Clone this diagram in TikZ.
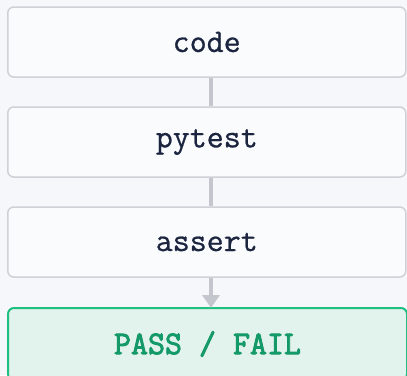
\documentclass[tikz,border=0pt]{standalone}
\usepackage{fontspec}
\usetikzlibrary{arrows.meta}
\newfontfamily\stagefont[FakeBold=0.7]{Latin Modern Mono}
\newfontfamily\resultfont[FakeBold=2.6]{Latin Modern Mono}
\definecolor{pagebg}{HTML}{F6F7FA}
\definecolor{boxfill}{HTML}{FAFBFC}
\definecolor{boxline}{HTML}{D0D1D8}
\definecolor{inktext}{HTML}{1C2540}
\definecolor{linkgray}{HTML}{C4C6CE}
\definecolor{okfill}{HTML}{E2F2EC}
\definecolor{okline}{HTML}{1FBF82}
\definecolor{oktext}{HTML}{149A68}
\tikzset{
  stagebox/.style={draw=boxline, line width=1.5pt, fill=boxfill, rounded corners=6pt,
    minimum width=398pt, minimum height=70pt, inner sep=0pt,
    font=\stagefont\fontsize{33}{38}\selectfont, text=inktext},
  resultbox/.style={draw=okline, line width=2pt, fill=okfill, rounded corners=6pt,
    minimum width=399pt, minimum height=72pt, inner sep=0pt,
    font=\resultfont\fontsize{33}{38}\selectfont, text=oktext},
  link/.style={draw=linkgray, line width=4.5pt},
  linkarrow/.style={link, -{Triangle[width=17pt,length=13pt]}, shorten >=-1pt}
}
\begin{document}
\begin{tikzpicture}[x=1pt,y=-1pt]
  \fill[pagebg] (0,0) rectangle (407,375);
  \useasboundingbox (0,0) rectangle (407,375);
  \node[stagebox] (code) at (206.75,42) {code};
  \node[stagebox] (pytest) at (206.75,142) {pytest};
  \node[stagebox] (assert) at (206.75,242) {assert};
  \node[resultbox] (result) at (207.5,344) {PASS / FAIL};
  \coordinate (c1) at (211,77.75);
  \coordinate (c2) at (211,106.25);
  \coordinate (c3) at (211,177.75);
  \coordinate (c4) at (211,206.25);
  \coordinate (c5) at (211,277.75);
  \coordinate (c6) at (211,307);
  \draw[link] (c1) -- (c2);
  \draw[link] (c3) -- (c4);
  \draw[linkarrow] (c5) -- (c6);
\end{tikzpicture}
\end{document}
